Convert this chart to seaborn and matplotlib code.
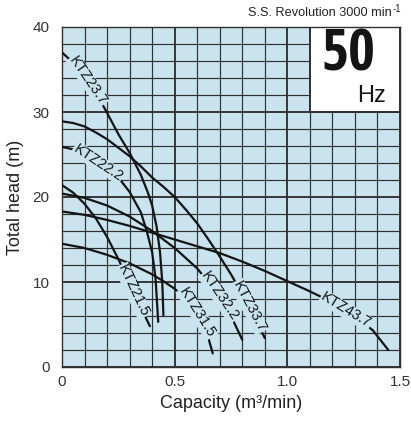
import os
import numpy as np
import pandas as pd
import matplotlib
matplotlib.use("Agg")
import matplotlib.pyplot as plt
import seaborn as sns
from matplotlib.ticker import MultipleLocator
from matplotlib.patches import Rectangle
from matplotlib import font_manager as fm

# ---- data ----
models = ["KTZ23.7", "KTZ22.2", "KTZ21.5", "KTZ32.2", "KTZ31.5", "KTZ33.7", "KTZ43.7"]

q_23_7 = [0, 0.05, 0.1, 0.15, 0.2, 0.25, 0.3, 0.35, 0.38, 0.40, 0.42, 0.435, 0.445, 0.45]
h_23_7 = [37, 35.8, 34.3, 32.3, 29.9, 27.4, 25.2, 22.6, 20.6, 19.0, 16.5, 13.5, 10.0, 6.1]

q_22_2 = [0, 0.05, 0.1, 0.15, 0.2, 0.25, 0.3, 0.35, 0.376, 0.40, 0.415, 0.427]
h_22_2 = [25.9, 25.6, 25.0, 24.2, 23.3, 22.3, 20.6, 18.2, 16.0, 13.5, 10.5, 5.3]

q_21_5 = [0, 0.05, 0.1, 0.15, 0.2, 0.25, 0.3, 0.35, 0.39]
h_21_5 = [21.4, 20.5, 19.2, 17.5, 15.3, 12.7, 9.8, 7.0, 4.8]

q_32_2 = [0, 0.1, 0.2, 0.3, 0.4, 0.5, 0.6, 0.7, 0.75, 0.8]
h_32_2 = [20.4, 19.9, 19.0, 17.7, 16.0, 14.0, 11.6, 8.3, 6.0, 3.2]

q_31_5 = [0, 0.1, 0.2, 0.3, 0.4, 0.45, 0.5, 0.55, 0.6, 0.64, 0.669]
h_31_5 = [14.5, 14.0, 13.2, 12.2, 10.9, 10.1, 9.2, 8.0, 6.4, 4.3, 1.6]

q_33_7 = [0, 0.05, 0.1, 0.15, 0.2, 0.25, 0.3, 0.35, 0.4, 0.45, 0.5, 0.55, 0.6,
          0.65, 0.7, 0.75, 0.8, 0.85, 0.9]
h_33_7 = [28.9, 28.7, 28.3, 27.6, 26.8, 25.8, 24.8, 23.6, 22.3, 21.2, 20.0, 18.5, 16.9,
          15.0, 13.0, 10.9, 8.6, 6.1, 3.4]

q_43_7 = [0, 0.1, 0.2, 0.3, 0.4, 0.5, 0.6, 0.7, 0.8, 0.9, 1.0, 1.1, 1.2, 1.3, 1.38, 1.448]
h_43_7 = [18.3, 17.9, 17.3, 16.6, 15.8, 15.0, 14.2, 13.4, 12.4, 11.3, 10.1, 8.9, 7.6, 6.0,
          4.3, 2.0]

label_q = [0.115, 0.16, 0.315, 0.70, 0.60, 0.83, 1.26]

x_ticks = [0, 0.5, 1.0, 1.5]
x_ticklabels = ["0", "0.5", "1.0", "1.5"]
y_ticks = [0, 10, 20, 30, 40]

curves = {
    "KTZ23.7": (q_23_7, h_23_7),
    "KTZ22.2": (q_22_2, h_22_2),
    "KTZ21.5": (q_21_5, h_21_5),
    "KTZ32.2": (q_32_2, h_32_2),
    "KTZ31.5": (q_31_5, h_31_5),
    "KTZ33.7": (q_33_7, h_33_7),
    "KTZ43.7": (q_43_7, h_43_7),
}
rows = []
for m in models:
    q, h = curves[m]
    for a, b in zip(q, h):
        rows.append({"model": m, "Q": a, "H": b})
df = pd.DataFrame(rows)


# ---- find a narrow (condensed) bold font if one is installed ----
def _w(f):
    w = f.weight
    if isinstance(w, str):
        w = fm.weight_dict.get(w, 400)
    return w


def find_narrow(bold):
    best, best_rank = None, 99
    for f in fm.fontManager.ttflist:
        n = f.name.lower()
        fn = os.path.basename(f.fname).lower()
        narrow = ("narrow" in n or "condensed" in n or "narrow" in fn
                  or "condensed" in fn or "cond" in fn
                  or f.stretch in ("condensed", "semi-condensed", "extra-condensed"))
        if not narrow:
            continue
        if f.style != "normal":
            continue
        isbold = _w(f) >= 600
        if bold != isbold:
            continue
        if "mono" in n or ("serif" in n and "sans" not in n):
            continue
        if "liberation" in n:
            rank = 0
        elif "roboto" in n or "open sans" in n or "noto sans" in n or "lato" in n:
            rank = 1
        elif "dejavu" in n:
            rank = 3
        else:
            rank = 2
        if rank < best_rank:
            best, best_rank = f.fname, rank
    return best, best_rank


nb_path, nb_rank = find_narrow(True)

# ---- style ----
sns.set_theme(style="white")
plt.rcParams["font.family"] = ["Liberation Sans", "DejaVu Sans"]

BG = "#c9e4ee"
GRID = "#303030"
INK = "#141414"

W, H = 411, 421
fig = plt.figure(figsize=(W / 100, H / 100), dpi=100)
ax_l, ax_b, ax_w, ax_h = 62, 54, 338, 340
ax = fig.add_axes([ax_l / W, ax_b / H, ax_w / W, ax_h / H])
ax.set_facecolor(BG)

sns.lineplot(data=df, x="Q", y="H", hue="model", units="model", estimator=None,
             sort=False, palette=[INK] * len(models), legend=False,
             linewidth=1.6, ax=ax, zorder=3)

ax.set_xlim(0, 1.5)
ax.set_ylim(0, 40)
ax.set_xticks(x_ticks)
ax.set_xticklabels(x_ticklabels)
ax.set_yticks(y_ticks)
ax.xaxis.set_minor_locator(MultipleLocator(0.1))
ax.yaxis.set_minor_locator(MultipleLocator(2))
ax.set_axisbelow(True)
ax.grid(which="minor", color=GRID, linewidth=0.85)
ax.grid(which="major", color=GRID, linewidth=1.35)
ax.tick_params(which="both", length=0, labelsize=11, colors="#333333")
ax.tick_params(axis="y", pad=9)
ax.tick_params(axis="x", pad=6)
for s in ax.spines.values():
    s.set_color(GRID)
    s.set_linewidth(1.0)

ax.set_xlabel("Capacity (m³/min)", fontsize=13, color="#222222", labelpad=4)
ax.set_ylabel("Total head (m)", fontsize=13, color="#222222", labelpad=6)

# white 50 Hz box
ax.add_patch(Rectangle((1.1, 30), 0.4, 10, facecolor="white", edgecolor=GRID,
                       linewidth=1.4, zorder=2.5))
if nb_path is not None and nb_rank <= 2:
    fp50 = fm.FontProperties(fname=nb_path, size=42)
else:
    fp50 = fm.FontProperties(family="Liberation Sans", weight="bold", size=38)
ax.text(1.27, 36.6, "50", fontproperties=fp50, ha="center", va="center",
        color=INK, zorder=4)
ax.text(1.436, 31.9, "Hz", fontsize=17, ha="right", va="center", color=INK, zorder=4)

# title with superscript
fpt = fm.FontProperties(family="Liberation Sans", size=9.2)
fps = fm.FontProperties(family="Liberation Sans", size=7)
sup = fig.text(401 / W, 1 - 9 / H, "-1", ha="right", va="center",
               fontproperties=fps, color="#222222")
fig.canvas.draw()
sw = sup.get_window_extent().width
fig.text((401 - sw - 1) / W, 1 - 13 / H, "S.S. Revolution 3000 min", ha="right",
         va="center", fontproperties=fpt, color="#222222")

# curve labels placed on the curves, rotated along the local slope
sx = ax_w / 1.5
sy = ax_h / 40.0
for m, lq in zip(models, label_q):
    q, h = curves[m]
    ly = np.interp(lq, q, h)
    d = 0.02
    slope = (np.interp(lq + d, q, h) - np.interp(lq - d, q, h)) / (2 * d)
    ang = np.degrees(np.arctan(slope * sy / sx))
    ax.text(lq, ly, m, rotation=ang, rotation_mode="anchor", ha="center", va="center",
            fontsize=10.5, color=INK, zorder=4,
            bbox=dict(boxstyle="square,pad=0.05", facecolor=BG, edgecolor="none"))

fig.savefig("out.png", dpi=100)
